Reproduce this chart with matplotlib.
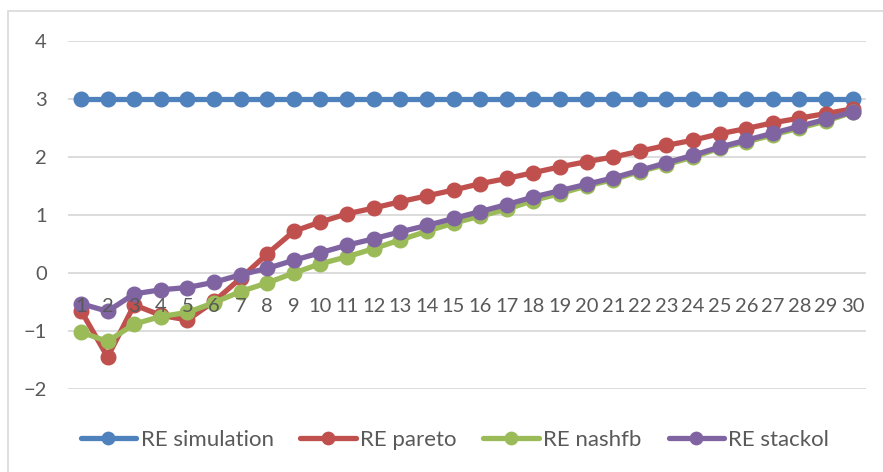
import matplotlib.pyplot as plt
import numpy as np

# valores RE por periodo
periodos = list(range(1, 31))
re_simulation = [3.0] * 30
re_pareto = [-0.65, -1.45, -0.55, -0.73, -0.81, -0.49, -0.09, 0.33, 0.72, 0.88,
             1.02, 1.12, 1.23, 1.33, 1.43, 1.54, 1.63, 1.73, 1.83, 1.92,
             2.00, 2.10, 2.20, 2.29, 2.40, 2.49, 2.59, 2.67, 2.75, 2.83]
re_nashfb = [-1.02, -1.18, -0.88, -0.75, -0.68, -0.51, -0.32, -0.17, 0.00, 0.16,
             0.28, 0.42, 0.57, 0.72, 0.86, 0.98, 1.10, 1.25, 1.37, 1.50,
             1.61, 1.75, 1.87, 2.00, 2.15, 2.26, 2.38, 2.50, 2.62, 2.77]
re_stackol = [-0.53, -0.66, -0.36, -0.29, -0.25, -0.16, -0.03, 0.08, 0.22, 0.35,
              0.48, 0.59, 0.71, 0.82, 0.94, 1.06, 1.18, 1.31, 1.42, 1.53,
              1.64, 1.77, 1.90, 2.03, 2.17, 2.29, 2.41, 2.53, 2.65, 2.78]

series = [("RE simulation", re_simulation, "#4F81BD"),
          ("RE pareto", re_pareto, "#C0504D"),
          ("RE nashfb", re_nashfb, "#9BBB59"),
          ("RE stackol", re_stackol, "#8064A2")]

plt.rcParams['font.family'] = ['Lato', 'DejaVu Sans']
gris = '#595959'

fig = plt.figure(figsize=(8.83, 4.72), dpi=100)
# marco del grafico
fig.patches.append(plt.Rectangle((8 / 883, -0.1), 1.2, 1 - 11 / 472 + 0.1,
                                 transform=fig.transFigure, fill=False,
                                 edgecolor='#D9D9D9', linewidth=1.2))

ax = fig.add_axes([67.7 / 883, 1 - 389 / 472, (866 - 67.7) / 883, (389 - 41) / 472])

yticks = list(range(-2, 5))
# lineas de la maya por debajo de las series
for v in yticks:
    ax.axhline(v, color='#D9D9D9', linewidth=1.3, zorder=1)

x = np.arange(len(periodos))
for nombre, y, c in series:
    ax.plot(x, y, color=c, linewidth=3.8, marker='o', markersize=10.5,
            label=nombre, solid_capstyle='round', zorder=2)

ax.set_xlim(-0.5, len(periodos) - 0.5)
ax.set_ylim(-2, 4)
ax.set_yticks(yticks)
ax.set_xticks(x)
ax.set_xticklabels([str(p) for p in periodos])

for s in ax.spines.values():
    s.set_visible(False)
ax.spines['bottom'].set_position(('data', 0))
# etiquetas de los ejes encima de las lineas
ax.set_axisbelow(False)
ax.tick_params(axis='y', length=0, pad=15, labelsize=14.5, labelcolor=gris)
ax.tick_params(axis='x', length=0, pad=18, labelsize=14.5, labelcolor=gris)

leg = ax.legend(loc='center', bbox_to_anchor=(455 / 883, 1 - 440 / 472),
                bbox_transform=fig.transFigure, ncol=4, frameon=False,
                fontsize=16, handlelength=2.5, handletextpad=0.2,
                columnspacing=1.2, markerscale=0.85)
for t in leg.get_texts():
    t.set_color(gris)

fig.savefig('out.png', dpi=100)
